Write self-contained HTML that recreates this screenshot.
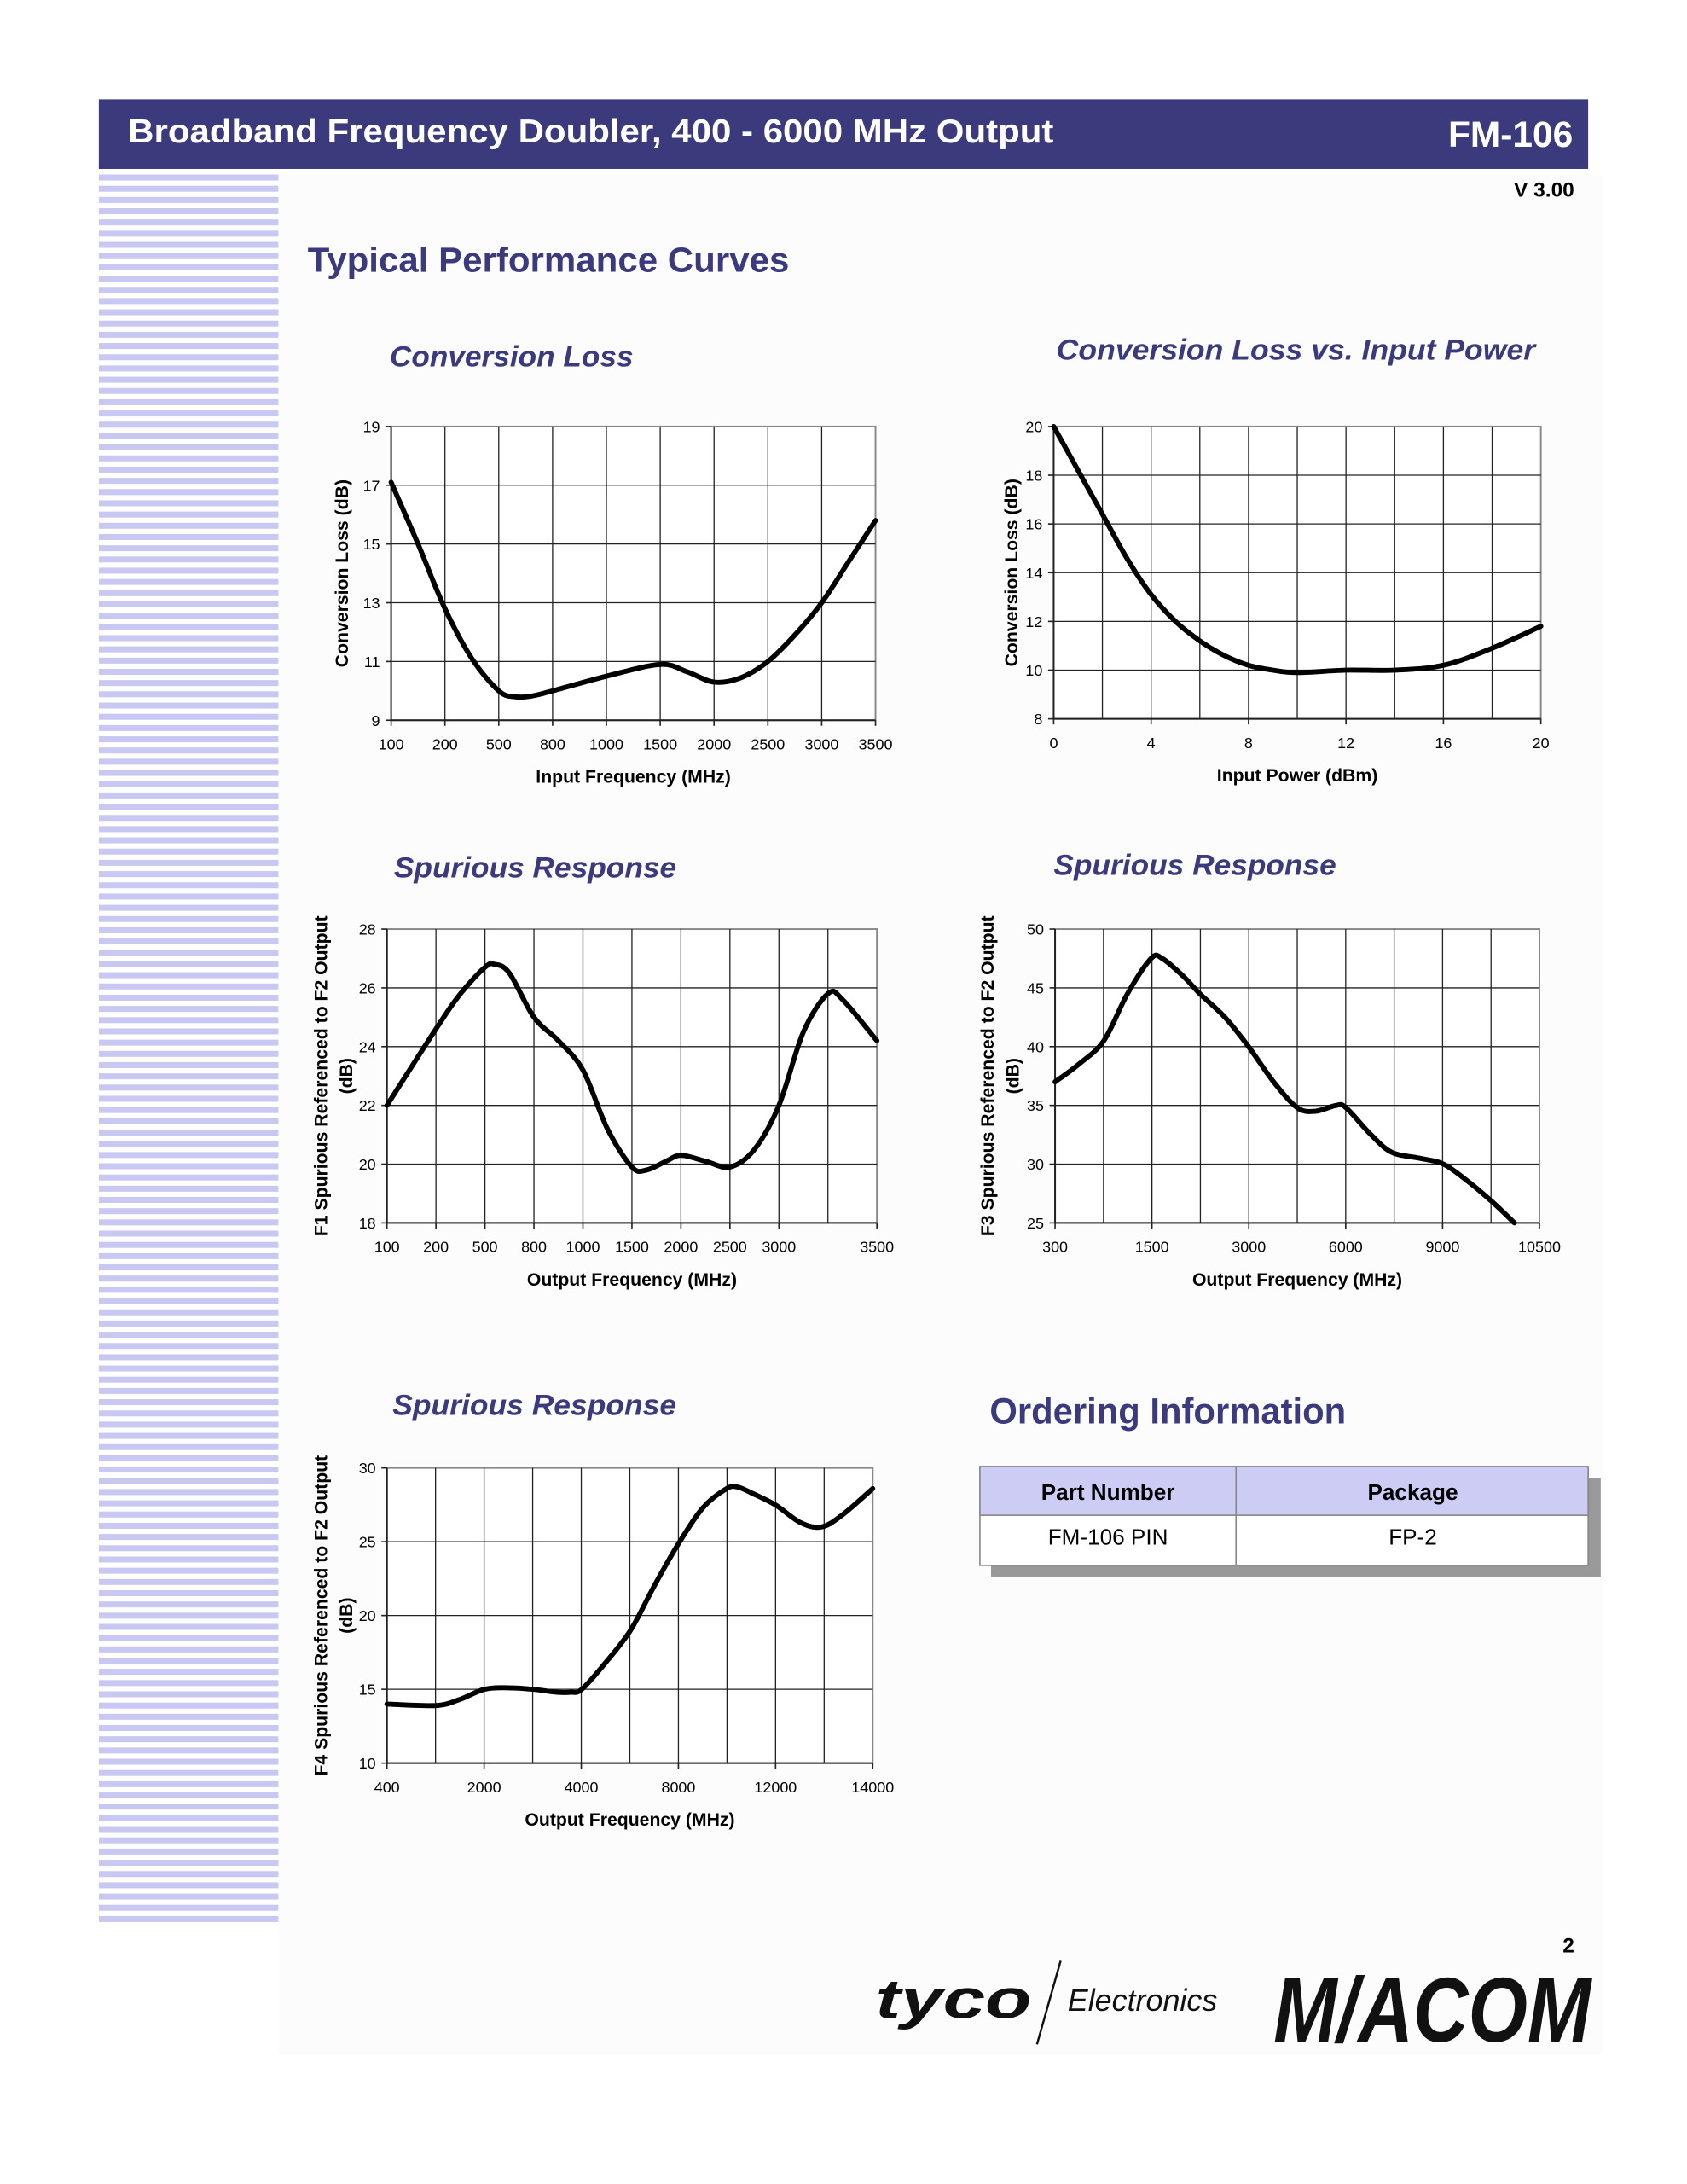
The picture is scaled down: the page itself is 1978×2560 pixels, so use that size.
<!DOCTYPE html>
<html><head><meta charset="utf-8">
<style>
html,body{margin:0;padding:0;background:#fff;}
svg{display:block;}
text{font-family:"Liberation Sans",Arial,sans-serif;}
</style></head>
<body>
<svg id="s" width="1978" height="2560" viewBox="0 0 1212 1568" xmlns="http://www.w3.org/2000/svg">
<rect x="0" y="0" width="1212" height="1568" fill="#fff"/>
<rect x="200" y="125" width="952" height="1350" fill="#fcfcfd"/>
<rect x="71" y="71" width="1070" height="50" fill="#3a3a7c"/>
<text x="92" y="102" font-size="24" font-weight="bold" fill="#fff" textLength="665" lengthAdjust="spacingAndGlyphs">Broadband Frequency Doubler, 400 - 6000 MHz Output</text>
<text x="1130" y="105" font-size="26" font-weight="bold" fill="#fff" text-anchor="end">FM-106</text>
<text x="1131" y="141" font-size="15" font-weight="bold" fill="#000" text-anchor="end">V 3.00</text>
<g id="stripes" fill="#c8c8f2"></g>
<text x="221" y="195" font-size="25" font-weight="bold" fill="#3a3a7c" textLength="346" lengthAdjust="spacingAndGlyphs">Typical Performance Curves</text>
<g font-style="italic" font-weight="bold" font-size="21" fill="#3a3a7c">
<text x="280" y="263" textLength="175" lengthAdjust="spacingAndGlyphs">Conversion Loss</text>
<text x="759" y="258" textLength="344" lengthAdjust="spacingAndGlyphs">Conversion Loss vs. Input Power</text>
<text x="283" y="630" textLength="203" lengthAdjust="spacingAndGlyphs">Spurious Response</text>
<text x="757" y="628" textLength="203" lengthAdjust="spacingAndGlyphs">Spurious Response</text>
<text x="282" y="1016" textLength="204" lengthAdjust="spacingAndGlyphs">Spurious Response</text>
</g>
<g id="charts"></g>
<text x="711" y="1022" font-size="26" font-weight="bold" fill="#3a3a7c" textLength="256" lengthAdjust="spacingAndGlyphs">Ordering Information</text>
<rect x="712" y="1061" width="438" height="71" fill="#999"/>
<rect x="704" y="1053" width="437" height="71" fill="#fff" stroke="#888" stroke-width="1"/>
<rect x="704" y="1053" width="437" height="35" fill="#ccccf5" stroke="#888" stroke-width="1"/>
<line x1="888" y1="1053" x2="888" y2="1124" stroke="#888"/>
<text x="796" y="1077" font-size="16" font-weight="bold" text-anchor="middle">Part Number</text>
<text x="1015" y="1077" font-size="16" font-weight="bold" text-anchor="middle">Package</text>
<text x="796" y="1109" font-size="16" text-anchor="middle">FM-106 PIN</text>
<text x="1015" y="1109" font-size="16" text-anchor="middle">FP-2</text>
<text x="1131" y="1402" font-size="15" font-weight="bold" text-anchor="end">2</text>
<text x="629" y="1449" font-size="40" font-weight="bold" font-style="italic" fill="#111" textLength="112" lengthAdjust="spacingAndGlyphs">tyco</text>
<line x1="762" y1="1408" x2="745" y2="1468" stroke="#111" stroke-width="1.5"/>
<text x="767" y="1444" font-size="22" font-style="italic" fill="#111">Electronics</text>
<text x="915" y="1466" font-size="66" font-weight="bold" font-style="italic" fill="#111" textLength="228" lengthAdjust="spacingAndGlyphs">M/ACOM</text>
</svg>
<script>
var NS="http://www.w3.org/2000/svg";
function el(p,t,a,txt){var e=document.createElementNS(NS,t);for(var k in a)e.setAttribute(k,a[k]);if(txt!=null)e.textContent=txt;p.appendChild(e);return e;}
var st=document.getElementById('stripes');
for(var y=125;y<1376;y+=8.07){el(st,'rect',{x:71,y:y.toFixed(2),width:129,height:4.3});}
var G=document.getElementById('charts');
function smooth(pts){var d='M'+pts[0][0]+','+pts[0][1];for(var i=0;i<pts.length-1;i++){var p0=pts[Math.max(0,i-1)],p1=pts[i],p2=pts[i+1],p3=pts[Math.min(pts.length-1,i+2)];var c1=[p1[0]+(p2[0]-p0[0])/6,p1[1]+(p2[1]-p0[1])/6],c2=[p2[0]-(p3[0]-p1[0])/6,p2[1]-(p3[1]-p1[1])/6];d+=' C'+c1[0].toFixed(2)+','+c1[1].toFixed(2)+' '+c2[0].toFixed(2)+','+c2[1].toFixed(2)+' '+p2[0].toFixed(2)+','+p2[1].toFixed(2);}return d;}
function chart(c){
 var g=el(G,'g',{});
 var x0=c.x0,x1=c.x1,y0=c.y0,y1=c.y1;
 el(g,'rect',{x:x0,y:y0,width:x1-x0,height:y1-y0,fill:'#fff',stroke:'#888','stroke-width':1.2});
 for(var i=1;i<c.nx;i++){var x=x0+(x1-x0)*i/c.nx;el(g,'line',{x1:x,y1:y0,x2:x,y2:y1,stroke:'#222','stroke-width':0.8});}
 var ny=c.yl.length-1;
 for(var i=0;i<=ny;i++){var y=y0+(y1-y0)*i/ny;if(i>0&&i<ny)el(g,'line',{x1:x0,y1:y,x2:x1,y2:y,stroke:'#222','stroke-width':0.8});el(g,'line',{x1:x0-4,y1:y,x2:x0,y2:y,stroke:'#222'});el(g,'text',{x:x0-8,y:y+4,'font-size':11,'text-anchor':'end'},c.yl[i]);}
 el(g,'line',{x1:x0,y1:y0,x2:x0,y2:y1,stroke:'#222','stroke-width':1.2});
 el(g,'line',{x1:x0,y1:y1,x2:x1,y2:y1,stroke:'#222','stroke-width':1.2});
 for(var i=0;i<c.xl.length;i++){var x=c.xl[i][0];el(g,'line',{x1:x,y1:y1,x2:x,y2:y1+4,stroke:'#222'});el(g,'text',{x:x,y:y1+21,'font-size':11,'text-anchor':'middle'},c.xl[i][1]);}
 el(g,'text',{x:(x0+x1)/2,y:y1+45,'font-size':13,'font-weight':'bold','text-anchor':'middle'},c.xt);
 for(var j=0;j<c.yt.length;j++){var yx=c.yt[j][0];var cy=(y0+y1)/2;el(g,'text',{x:yx,y:cy,'font-size':13,'font-weight':'bold','text-anchor':'middle',transform:'rotate(-90 '+yx+' '+cy+')'},c.yt[j][1]);}
 var vmin=c.vmin,vmax=c.vmax;
 var pts=c.pts.map(function(p){return[p[0],y1-(p[1]-vmin)/(vmax-vmin)*(y1-y0)];});
 el(g,'path',{d:smooth(pts),fill:'none',stroke:'#000','stroke-width':3.6,'stroke-linejoin':'round','stroke-linecap':'round'});
}
(function(){var x0=281,x1=629,w=(x1-x0)/9;var lab=['100','200','500','800','1000','1500','2000','2500','3000','3500'];
var raw=[[0,17.1],[0.5,15],[1,12.8],[1.5,11.1],[2,10],[2.3,9.8],[2.6,9.82],[3,10],[4,10.5],[5,10.9],[5.5,10.65],[6,10.3],[6.5,10.45],[7,11],[7.5,11.9],[8,13],[8.5,14.4],[9,15.8]];
chart({x0:x0,x1:x1,y0:306,y1:517,nx:9,yl:['19','17','15','13','11','9'],vmin:9,vmax:19,xl:lab.map(function(l,i){return[x0+w*i,l];}),xt:'Input Frequency (MHz)',yt:[[250,'Conversion Loss (dB)']],pts:raw.map(function(p){return[x0+w*p[0],p[1]];})});})();
(function(){var x0=757,x1=1107,w=(x1-x0)/20;var raw=[[0,20],[1,18.2],[2,16.4],[3,14.6],[4,13.1],[5,12],[6,11.2],[7,10.6],[8,10.2],[9,10],[10,9.9],[12,10],[14,10],[16,10.2],[18,10.9],[20,11.8]];
chart({x0:x0,x1:x1,y0:306,y1:516,nx:10,yl:['20','18','16','14','12','10','8'],vmin:8,vmax:20,xl:[0,4,8,12,16,20].map(function(v){return[x0+w*v,''+v];}),xt:'Input Power (dBm)',yt:[[731,'Conversion Loss (dB)']],pts:raw.map(function(p){return[x0+w*p[0],p[1]];})});})();
(function(){var x0=278,x1=630,w=(x1-x0)/10;var lab=[[0,'100'],[1,'200'],[2,'500'],[3,'800'],[4,'1000'],[5,'1500'],[6,'2000'],[7,'2500'],[8,'3000'],[10,'3500']];
var raw=[[0,22],[1,24.6],[1.5,25.8],[2,26.7],[2.2,26.8],[2.5,26.5],[3,25],[3.5,24.2],[4,23.2],[4.5,21.2],[5,19.9],[5.3,19.8],[5.7,20.1],[6,20.3],[6.5,20.1],[7,19.9],[7.5,20.5],[8,22],[8.5,24.5],[9,25.8],[9.3,25.6],[10,24.2]];
chart({x0:x0,x1:x1,y0:667,y1:878,nx:10,yl:['28','26','24','22','20','18'],vmin:18,vmax:28,xl:lab.map(function(l){return[x0+w*l[0],l[1]];}),xt:'Output Frequency (MHz)',yt:[[235,'F1 Spurious Referenced to F2 Output'],[253,'(dB)']],pts:raw.map(function(p){return[x0+w*p[0],p[1]];})});})();
(function(){var x0=758,x1=1106;var lab=['300','1500','3000','6000','9000','10500'];var w=(x1-x0)/5;
var raw=[[758,37],[775,38.5],[793,40.5],[810,44.5],[827,47.5],[835,47.5],[850,46],[862,44.5],[880,42.5],[897,40],[915,37],[932,34.8],[945,34.5],[960,35],[967,34.8],[985,32.5],[1000,31],[1020,30.5],[1037,30],[1055,28.5],[1072,26.8],[1088,25]];
chart({x0:x0,x1:x1,y0:667,y1:878,nx:10,yl:['50','45','40','35','30','25'],vmin:25,vmax:50,xl:lab.map(function(l,i){return[x0+w*i,l];}),xt:'Output Frequency (MHz)',yt:[[714,'F3 Spurious Referenced to F2 Output'],[732,'(dB)']],pts:raw});})();
(function(){var x0=278,x1=627;var lab=['400','2000','4000','8000','12000','14000'];var w=(x1-x0)/5;
var raw=[[278,14],[313,13.9],[330,14.3],[348,15],[365,15.1],[383,15],[400,14.8],[410,14.8],[418,15],[435,16.8],[453,19],[470,22],[487,24.8],[505,27.3],[522,28.6],[530,28.7],[540,28.3],[557,27.5],[575,26.3],[590,26],[605,26.8],[627,28.6]];
chart({x0:x0,x1:x1,y0:1054,y1:1266,nx:10,yl:['30','25','20','15','10'],vmin:10,vmax:30,xl:lab.map(function(l,i){return[x0+w*i,l];}),xt:'Output Frequency (MHz)',yt:[[235,'F4 Spurious Referenced to F2 Output'],[253,'(dB)']],pts:raw});})();
</script>
</body></html>
